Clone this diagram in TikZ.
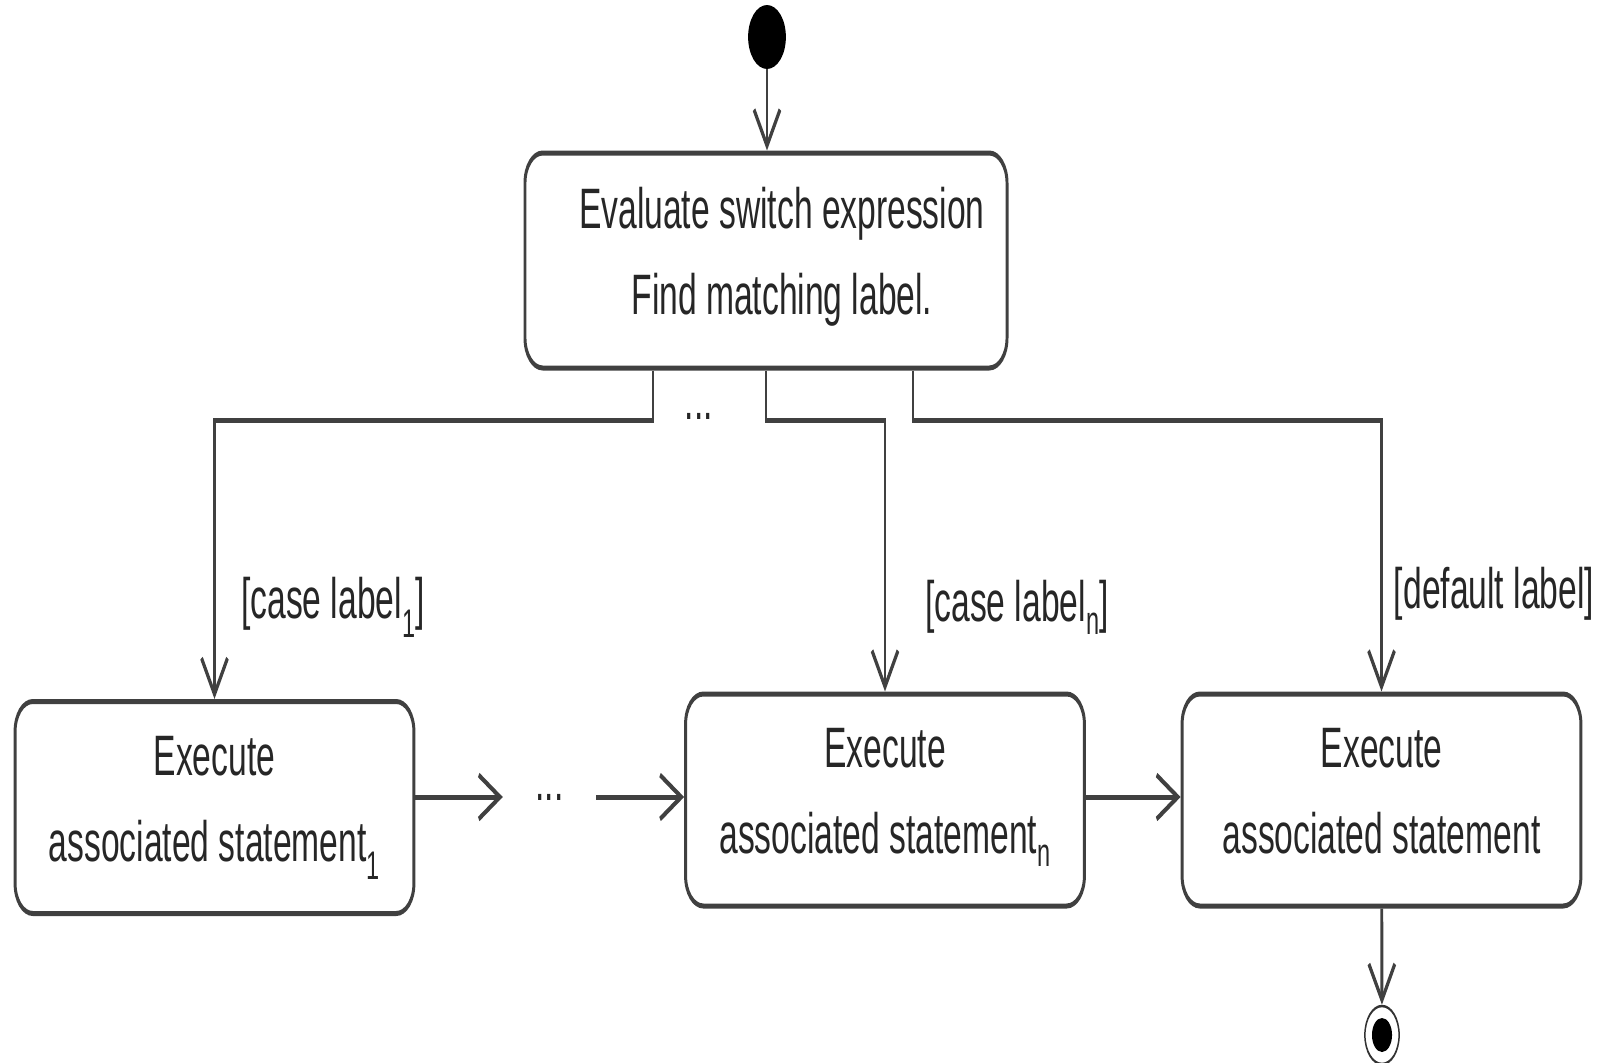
\documentclass[tikz,border=0pt]{standalone}
\usepackage{fontspec}
\setmainfont{Liberation Sans}
\usetikzlibrary{arrows.meta,calc}

% two-line state text with fixed first-line height and last-line depth
\newcommand\statetext[2]{\rule{0pt}{44pt}#1\\#2\rule[-23pt]{0pt}{23pt}}

\begin{document}
\begin{tikzpicture}
\useasboundingbox (0,0) rectangle (1604pt,-1063pt);
% The diagram is drawn on a canvas that is condensed horizontally.
\begin{scope}[overlay, transform canvas={xscale=0.59}, x=1.69492pt, y=-1pt,
  every node/.style={font=\fontsize{57}{86}\selectfont, text=black!85},
  state/.style={draw=black!75, line width=5pt, rounded corners=30pt,
    minimum width=676pt, minimum height=212pt, align=center, inner sep=0pt},
  flow/.style={draw=black!75, line width=5pt,
    -{Straight Barb[length=36pt,width=44pt]}},
  guard/.style={inner sep=0pt}]

  % initial and final states
  \node[circle, fill=black, minimum size=64pt, inner sep=0pt] (start) at (767,37) {};
  \node[circle, draw=black!80, line width=2.5pt, minimum size=58pt, inner sep=0pt,
    path picture={\fill[black] (path picture bounding box.center) circle (17pt);}]
    (end) at (1382,1035) {};

  % action states
  \node[state, minimum width=817pt, minimum height=215pt] (top) at (766,260.5)
    {\statetext{\hspace*{54pt}Evaluate switch expression}{\hspace*{54pt}Find matching label.}};
  \node[state] (b1) at (214.5,807.5)
    {\statetext{Execute}{associated statement\textsubscript{1}}};
  \node[state] (b2) at (885,800)
    {\statetext{Execute}{associated statement\textsubscript{n}}};
  \node[state] (b3) at (1381.5,800)
    {\statetext{Execute}{associated statement}};

  % ellipses standing for omitted branches
  \node[guard] (d1) at (699,416) {...};
  \node[guard, minimum width=158pt] (d2) at (549.5,797) {...};

  % guards
  \node[guard] (l1) at (333,607) {[case label\textsubscript{1}]};
  \node[guard] (ln) at (1017,607) {[case label\textsubscript{n}]};
  \node[guard] (ld) at (1494,594) {[default label]};

  % transitions
  \draw[flow] (start) -- (start |- top.north);
  \draw[flow] ($(top.south)+(-113,0)$) -- ++(0,50) -| (b1.north);
  \draw[flow] (top.south) -- ++(0,50) -| (b2.north);
  \draw[flow] ($(top.south)+(147,0)$) -- ++(0,50) -| (b3.north);
  \draw[flow] (b1.east |- d2) -- (d2.west);
  \draw[flow] (d2.east) -- (b2.west |- d2);
  \draw[flow] (b2.east |- d2) -- (b3.west |- d2);
  \draw[flow] (b3) -- (end);
\end{scope}
\end{tikzpicture}
\end{document}
